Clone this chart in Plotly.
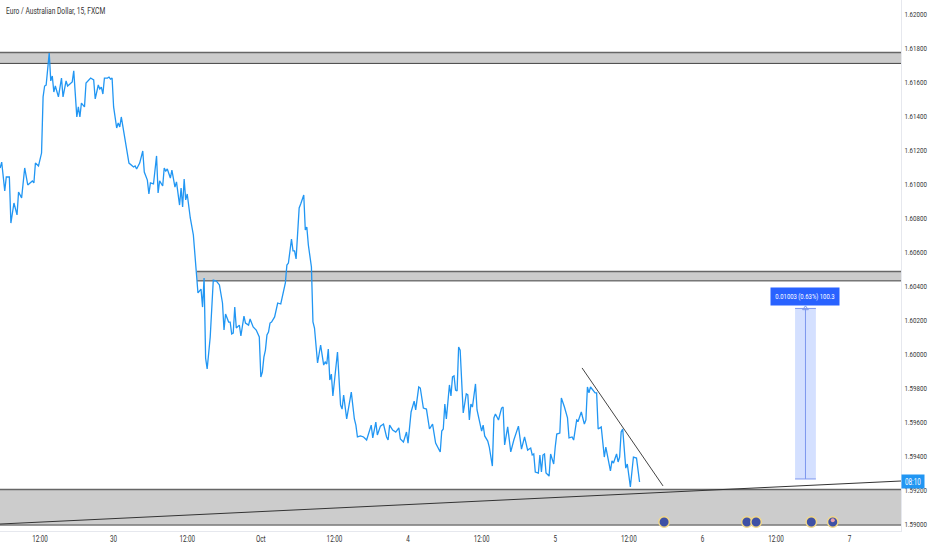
import plotly.graph_objects as go

title = "Euro / Australian Dollar, 15, FXCM"
bars = [22,23,25,26,28,29,31,33,34,36,
38,40,43,44,45,47,49,50,51,52,
54,55,56,57,58,60,62,63,65,66,
69,70,72,73,74,75,77,78,81,83,
84,86,87,88,89,90,92,93,94,95,
96,98,99,100,101,103,104,106,109,110,
111,113,115,116,118,119,120,122,124,125,
126,128,129,130,131,133,134,136,137,139,
140,141,142,143,144,146,148,150,151,153,
154,155,156,157,159,161,163,165,167,168,
169,171,172,173,174,175,176,178,179,181,
182,184,185,187,189,191,192,193,194,195,
196,197,198,199,201,203,205,208,209,210,
212,213,214,215,217,218,220,221,222,223,
225,226,227,229,231,233,234,235,236,237,
238,239,242,244,245,246,248,251,252,253,
254,255,257,259,261,263,264,265,267,268,
270,272,274,275,276,278,280,282,283,285,
287,288,290,292,293,295,296,298,300,302,
304,306,307,309,310,311,312,313,315,316,
317,318,319,320,321,322,324,326,327,328,
329,330,332,333,336,337,338,340,341,343,
344,345,347,349,350,351,353,355,357,360,
362,364,366,368,369,370,371,373,374,375,
376,377,378,380,381,383,384,385,387,388,
390,392,393,395,396,398,399,401,403,404,
405,406,407,410,411,412,414,416,417,420,
421,422,424,425,426,427,428,430,431,433,
435,437,439]
closes = [1.61094,1.61129,1.60959,1.61041,1.61041,1.60770,1.60888,1.60818,1.60953,1.60918,
1.61094,1.60994,1.61018,1.61006,1.61123,1.61106,1.61182,1.61512,1.61576,1.61582,
1.61770,1.61606,1.61635,1.61541,1.61576,1.61512,1.61623,1.61512,1.61606,1.61576,
1.61600,1.61665,1.61394,1.61453,1.61394,1.61476,1.61453,1.61594,1.61623,1.61612,
1.61500,1.61582,1.61559,1.61570,1.61529,1.61623,1.61623,1.61629,1.61617,1.61623,
1.61453,1.61329,1.61359,1.61335,1.61394,1.61282,1.61247,1.61123,1.61100,1.61106,
1.61088,1.61123,1.61194,1.61070,1.61023,1.60941,1.61006,1.61000,1.61165,1.60947,
1.61018,1.60988,1.61094,1.61076,1.61088,1.61035,1.61082,1.60982,1.61012,1.60876,
1.60976,1.60865,1.61029,1.60906,1.60941,1.60800,1.60700,1.60494,1.60359,1.60382,
1.60276,1.60447,1.59976,1.59912,1.60100,1.60435,1.60429,1.60406,1.60300,1.60141,
1.60235,1.60188,1.60188,1.60118,1.60123,1.60276,1.60153,1.60170,1.60106,1.60223,
1.60182,1.60170,1.60206,1.60159,1.60141,1.60100,1.59865,1.59894,1.59982,1.60023,
1.60112,1.60129,1.60182,1.60188,1.60218,1.60300,1.60294,1.60418,1.60523,1.60535,
1.60676,1.60606,1.60606,1.60559,1.60859,1.60882,1.60935,1.60729,1.60747,1.60641,
1.60512,1.60188,1.60153,1.59947,1.60053,1.59935,1.59953,1.59941,1.60029,1.59847,
1.59882,1.59753,1.60012,1.59700,1.59676,1.59759,1.59618,1.59776,1.59682,1.59618,
1.59582,1.59512,1.59518,1.59512,1.59494,1.59553,1.59582,1.59506,1.59600,1.59524,
1.59576,1.59588,1.59512,1.59494,1.59582,1.59553,1.59541,1.59565,1.59500,1.59482,
1.59541,1.59476,1.59659,1.59723,1.59671,1.59806,1.59800,1.59682,1.59676,1.59559,
1.59588,1.59476,1.59459,1.59424,1.59547,1.59559,1.59706,1.59618,1.59818,1.59753,
1.59865,1.59871,1.59788,1.59782,1.60041,1.60023,1.59653,1.59765,1.59759,1.59612,
1.59706,1.59688,1.59824,1.59671,1.59547,1.59582,1.59518,1.59488,1.59453,1.59341,
1.59624,1.59647,1.59612,1.59682,1.59688,1.59465,1.59571,1.59424,1.59494,1.59576,
1.59441,1.59512,1.59435,1.59447,1.59406,1.59412,1.59306,1.59300,1.59406,1.59306,
1.59406,1.59412,1.59300,1.59282,1.59412,1.59353,1.59453,1.59529,1.59535,1.59741,
1.59688,1.59624,1.59506,1.59512,1.59494,1.59612,1.59606,1.59659,1.59588,1.59612,
1.59806,1.59771,1.59806,1.59771,1.59771,1.59559,1.59571,1.59394,1.59453,1.59312,
1.59371,1.59359,1.59412,1.59365,1.59394,1.59541,1.59559,1.59329,1.59353,1.59218,
1.59394,1.59388,1.59247]

x_range = [21.9, 609.5]
y_range = [1.58959, 1.62082]
x_tick_vals = [48,96,144,192,240,288,336,384,432,480,528,576]
x_tick_text = ["12:00","30","12:00","Oct","12:00","4","12:00","5","12:00","6","12:00","7"]
y_tick_vals = [1.59,1.592,1.594,1.596,1.598,1.6,1.602,1.604,1.606,1.608,1.61,1.612,1.614,1.616,1.618,1.62]
y_tick_text = [f"{v:.5f}" for v in y_tick_vals]

# zones: start bar, lower price, upper price
zone_starts = [21.9, 150.4, 21.9]
zone_lows = [1.61709, 1.60430, 1.58994]
zone_highs = [1.61773, 1.60485, 1.59203]

trend_bars = [21.9, 609.5]
trend_prices = [1.59000, 1.59253]
fall_bars = [401.5, 454.3]
fall_prices = [1.59918, 1.59224]

measure_bars = [540.4, 554.0]
measure_center = 547.2
measure_prices = [1.59265, 1.60268]
measure_text = "0.01003 (0.63%) 100.3"

event_bars = [455, 509, 515, 551, 565]
event_price = 1.59012
flag_bar = [565]
flag_price = [1.59022]
countdown = "08:10"

LINE = "#2196f3"
FILL = "#cccccc"
font = "Roboto, sans-serif"

fig = go.Figure()
shapes = []
for s, lo, hi in zip(zone_starts, zone_lows, zone_highs):
    shapes.append(dict(type="rect", xref="x", yref="y", x0=s, x1=x_range[1], y0=lo, y1=hi,
                       fillcolor=FILL, line=dict(width=0), layer="below"))
    shapes.append(dict(type="line", xref="x", yref="y", x0=s, x1=x_range[1], y0=hi, y1=hi,
                       line=dict(color="#666666", width=1.5), layer="below"))
    shapes.append(dict(type="line", xref="x", yref="y", x0=s, x1=x_range[1], y0=lo, y1=lo,
                       line=dict(color="#444444", width=1), layer="below"))
shapes.append(dict(type="rect", xref="x", yref="y", x0=measure_bars[0], x1=measure_bars[1],
                   y0=measure_prices[0], y1=measure_prices[1],
                   fillcolor="rgba(41,98,255,0.2)", line=dict(width=0), layer="below"))
for p in measure_prices:
    shapes.append(dict(type="line", xref="x", yref="y", x0=measure_bars[0], x1=measure_bars[1],
                       y0=p, y1=p, line=dict(color="#7d97ee", width=1), layer="below"))
shapes.append(dict(type="line", xref="x", yref="y", x0=measure_center, x1=measure_center,
                   y0=measure_prices[0], y1=measure_prices[1],
                   line=dict(color="#7d97ee", width=1), layer="below"))

fig.add_trace(go.Scatter(x=bars, y=closes, mode="lines",
                         line=dict(color=LINE, width=1.3), hoverinfo="skip"))
fig.add_trace(go.Scatter(x=trend_bars, y=trend_prices, mode="lines",
                         line=dict(color="#333333", width=1), hoverinfo="skip"))
fig.add_trace(go.Scatter(x=fall_bars, y=fall_prices, mode="lines",
                         line=dict(color="#444444", width=1), hoverinfo="skip"))
fig.add_trace(go.Scatter(x=event_bars, y=[event_price]*len(event_bars), mode="markers", cliponaxis=False,
                         marker=dict(size=10.5, color="#3f51a5",
                                     line=dict(color="#f2d98a", width=1.5)), hoverinfo="skip"))
fig.add_trace(go.Scatter(x=flag_bar, y=flag_price, mode="markers", cliponaxis=False,
                         marker=dict(size=4, color="#e9a0ac"), hoverinfo="skip"))
fig.add_trace(go.Scatter(x=[measure_center], y=[measure_prices[1]], mode="markers",
                         marker=dict(symbol="triangle-up-open", size=5, color="#7d97ee",
                                     line=dict(width=1)), hoverinfo="skip"))

annotations = [
    dict(xref="paper", yref="paper", x=0.0044, y=0.979, xanchor="left", yanchor="middle",
         width=103, align="left",
         text=title, showarrow=False, font=dict(size=9, color="#333333", family=font)),
    dict(xref="x", yref="y", x=measure_center, y=1.60340, yanchor="middle", xanchor="center",
         width=64, height=13, align="center",
         text=measure_text, showarrow=False, bgcolor="#2962ff", borderpad=2,
         font=dict(size=8, color="white", family=font)),
    dict(xref="x", yref="y", x=x_range[1], xanchor="left", y=trend_prices[1], yanchor="middle",
         width=19, align="center",
         text=countdown, showarrow=False, bgcolor="#2196f3", borderpad=1.5,
         font=dict(size=8.5, color="white", family=font)),
]

fig.update_layout(
    width=932, height=550, margin=dict(l=0, r=31, t=0, b=19, autoexpand=False),
    paper_bgcolor="white", plot_bgcolor="white", showlegend=False,
    shapes=shapes, annotations=annotations,
    xaxis=dict(range=x_range, tickmode="array", tickvals=x_tick_vals, ticktext=x_tick_text,
               showgrid=False, zeroline=False, showline=True, linecolor="#e6e8ee", linewidth=1,
               ticks="", tickfont=dict(size=8.5, color="#333333", family=font)),
    yaxis=dict(range=y_range, side="right", tickmode="array", tickvals=y_tick_vals,
               ticktext=y_tick_text, showgrid=False, zeroline=False, showline=True,
               linecolor="#e6e8ee", linewidth=1, ticks="outside", ticklen=1, tickcolor="white",
               tickfont=dict(size=7.5, color="#333333", family=font)),
)
post = """
document.body.style.margin='0';document.body.style.overflow='hidden';
function squeeze(){
  document.querySelectorAll('.xtick text,.ytick text,.annotation-text').forEach(function(t){
    if(t.getAttribute('data-sq')) return;
    var w=t.getComputedTextLength();
    var k=t.closest('.ytick')?0.82:0.74;
    t.setAttribute('data-sq','1');
    t.setAttribute('textLength',w*k);
    t.setAttribute('lengthAdjust','spacingAndGlyphs');
  });
}
squeeze();setTimeout(squeeze,100);setTimeout(squeeze,500);
"""
fig.write_html("out.html", post_script=post, config={"displayModeBar": False})
